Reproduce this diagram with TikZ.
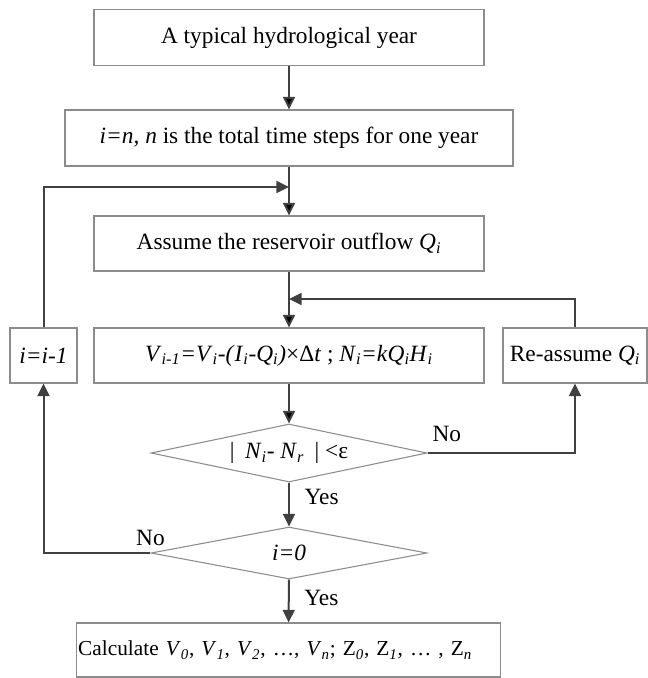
\documentclass[tikz,border=0pt]{standalone}
\usepackage{fontspec}
\setmainfont{Liberation Serif}
\usepackage{tikz}
\usetikzlibrary{shapes.geometric,arrows.meta}
\definecolor{boxgray}{RGB}{140,140,140}
\definecolor{linegray}{RGB}{64,64,64}
\newcommand{\vsub}[2]{\textit{#1}\textsubscript{\textit{#2}}}

\begin{document}
\begin{tikzpicture}[x=0.75pt,y=-0.75pt,
	font=\fontsize{17.5pt}{21pt}\selectfont,
	box/.style={shape=rectangle,draw=boxgray,line width=0.8pt,minimum height=41.25pt,inner sep=2pt},
	test/.style={shape=diamond,draw=boxgray,line width=0.8pt,aspect=4,inner sep=0pt,minimum width=207pt},
	flow/.style={draw=linegray,line width=1.5pt,-{Triangle[length=9.5pt,width=9pt]}},
	lbl/.style={inner sep=2pt}]

	\useasboundingbox (0,0) rectangle (647,678);

	\node[box,minimum width=292.5pt,minimum height=42pt] (year) at (289, 37.5) {A typical hydrological year};
	\node[box,minimum width=336pt,minimum height=42pt] (init) at (289, 138) {\textit{i=n, n} is the total time steps for one year};
	\node[box,minimum width=292.5pt] (assume) at (289, 243.5) {Assume the reservoir outflow \vsub{Q}{i}};
	\node[box,minimum width=292.5pt] (calc) at (289, 355.5) {\vsub{V}{i-1}\textit{=}\vsub{V}{i}\textit{-(}\vsub{I}{i}\textit{-}\vsub{Q}{i}\textit{)}×Δ\textit{t} ; \vsub{N}{i}\textit{=k}\vsub{Q}{i}\vsub{H}{i}};
	\node[box,minimum width=50.25pt] (dec) at (43.5, 355.5) {\textit{i=i-1}};
	\node[box,minimum width=108pt] (reas) at (575, 355.5) {Re-assume \vsub{Q}{i}};
	\node[test,minimum height=43.5pt] (chk) at (289, 453) {|\hspace{0.45em}\vsub{N}{i}- \vsub{N}{r}\hspace{0.45em}| <ε};
	\node[test,minimum height=39pt] (zero) at (289, 553) {\textit{i=0}};
	\node[box,minimum height=40.5pt,inner xsep=1.5pt,text width=315.5pt,align=left,font=\fontsize{16pt}{19pt}\selectfont] (res) at (288.5, 650) {Calculate \vsub{V}{0}, \vsub{V}{1}, \vsub{V}{2}, …, \vsub{V}{n}; Z\textsubscript{\textit{0}}, Z\textsubscript{\textit{1}}, … , Z\textsubscript{\textit{n}}};

	\coordinate (merge) at (289, 187);
	\coordinate (back) at (289, 299);

	\path[flow] (year) edge (init);
	\path[flow] (init) edge (assume);
	\path[flow] (assume) edge (calc);
	\path[flow] (calc) edge (chk);
	\draw[flow] (dec) |- (merge);
	\draw[flow] (reas) |- (back);
	\draw[flow] (chk.east) -- node[lbl,pos=0,anchor=south west,xshift=1pt,yshift=6pt] {No} (chk.east -| reas) -- (reas);
	\draw[flow] (zero.west) -- node[lbl,pos=0,anchor=south,yshift=3pt] {No} (zero.west -| dec) -- (dec);
	\draw[flow] (chk) -- node[lbl,pos=0.33,anchor=west,xshift=9pt] {Yes} (zero);
	\draw[flow] (zero) -- node[lbl,pos=0.43,anchor=west,xshift=9pt] {Yes} (res);

\end{tikzpicture}
\end{document}
